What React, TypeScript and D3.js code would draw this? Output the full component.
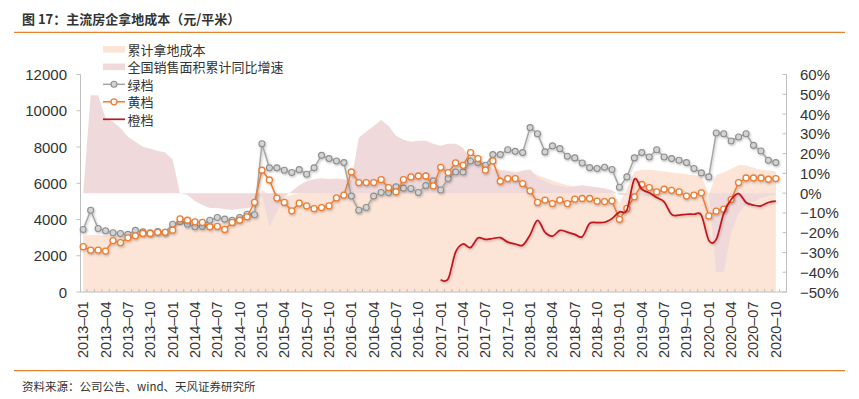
import React from "react";
import * as d3 from "d3";

const W = 859;
const H = 399;

// categories: 2013-01 .. 2020-11 (last slot empty)
const startYear = 2013;
const nSlots = 95;
const months: string[] = [];
for (let k = 0; k < nSlots; k++) {
  const y = startYear + Math.floor(k / 12);
  const m = (k % 12) + 1;
  months.push(`${y}-${m < 10 ? "0" + m : m}`);
}

const tickLabels = [
  "2013-01", "2013-04", "2013-07", "2013-10",
  "2014-01", "2014-04", "2014-07", "2014-10",
  "2015-01", "2015-04", "2015-07", "2015-10",
  "2016-01", "2016-04", "2016-07", "2016-10",
  "2017-01", "2017-04", "2017-07", "2017-10",
  "2018-01", "2018-04", "2018-07", "2018-10",
  "2019-01", "2019-04", "2019-07", "2019-10",
  "2020-01", "2020-04", "2020-07", "2020-10",
];

const leftTicks = [0, 2000, 4000, 6000, 8000, 10000, 12000];
const rightTicks = [-50, -40, -30, -20, -10, 0, 10, 20, 30, 40, 50, 60];

const legendLabels = ["累计拿地成本", "全国销售面积累计同比增速", "绿档", "黄档", "橙档"];

// 累计拿地成本 (area, left axis)
const landCost = [
  3100, 3150, 3150, 3100, 3100, 3150, 3200, 3250, 3250, 3300, 3300, 3350,
  3450, 3550, 3600, 3650, 3700, 3750, 3800, 3850, 3950, 4050, 4200, 4600,
  5650, 5350, 5200, 5250, 5350, 5450, 5550, 5650, 5700, 5750, 5800, 5850,
  5900, 5950, 6000, 6050, 6100, 6150, 6200, 6250, 6300, 6350, 6400, 6450,
  6550, 6650, 6750, 6850, 6950, 7000, 6950, 6850, 6750, 6700, 6650, 6650,
  6600, 6450, 6300, 6150, 6000, 5900, 5800, 5750, 5700, 5650, 5600, 5550,
  4900, 5700, 6650, 6750, 6750, 6700, 6650, 6600, 6550, 6500, 6450, 6400,
  5400, 6450, 6600, 6800, 7000, 7000, 6850, 6750, 6700, 6650,
];

// 全国销售面积累计同比增速 (area, right axis, %)
const salesGrowth = [
  0, 49.5, 49.5, 38, 36, 33, 28.5, 26, 23.5, 22.5, 21.5, 20.5,
  17, 0, -1, -4, -6, -7.5, -7.5, -8, -8.5, -8, -7.5, -7,
  -1, -17, -9.5, -2, 1, 4, 6, 7, 7.5, 7.2, 7.4, 7,
  6.5, 28, 31, 34, 37, 34, 29, 27, 26, 26.5, 26.5, 25,
  24, 25, 25, 23, 17, 14.5, 13, 12, 11.5, 11, 10, 11.5,
  12, 8, 6, 4.5, 3.6, 3, 3.5, 4, 3.5, 3, 2.5, 1.5,
  -1, -1, -0.5, -1.6, -1.8, -1.3, -0.6, -0.1, 0.1, 0.2, -0.1, 0,
  0, -40, -40, -20, -10, -6, -4.5, -2.5, -1.5, -0.8,
];

// 绿档
const green = [
  3450, 4510, 3500, 3380, 3270, 3230, 3180, 3400, 3320, 3270, 3340, 3290,
  3740, 3870, 3740, 3600, 3620, 3960, 4110, 4020, 3960, 4110, 4290, 4260,
  8180, 6850, 6850, 6720, 6590, 6750, 6500, 6850, 7540, 7360, 7230, 7140,
  5290, 4510, 4660, 5290, 5490, 5490, 5800, 5730, 5710, 5490, 5870, 6130,
  5630, 6260, 6620, 6620, 7230, 7140, 6990, 7580, 7580, 7850, 7760, 7690,
  9070, 8730, 7730, 8060, 7910, 7490, 7400, 7120, 6860, 6810, 6880, 6760,
  5780, 6350, 7400, 7690, 7450, 7850, 7450, 7360, 7270, 7140, 6810, 6570,
  6350, 8770, 8730, 8330, 8550, 8730, 8090, 7780, 7270, 7140,
];

// 黄档
const yellow = [
  2500, 2310, 2310, 2260, 2830, 2720, 2990, 3100, 3230, 3230, 3290, 3290,
  3410, 4040, 3960, 3870, 3840, 3600, 3620, 3450, 3840, 3960, 4150, 4950,
  6716, 6180, 5180, 4940, 4480, 4900, 4750, 4600, 4660, 4750, 5190, 5340,
  6620, 6040, 6040, 6040, 6200, 5760, 5520, 6200, 6350, 6400, 6400, 5850,
  6880, 6590, 7120, 6990, 7690, 7360, 6720, 7230, 6110, 6260, 6260, 5980,
  5580, 4940, 5070, 4880, 5070, 4880, 5120, 5160, 5160, 5010, 4990, 5030,
  4010, 4610, 5250, 5930, 5760, 5520, 5670, 5610, 5520, 5290, 5340, 5470,
  4200, 4460, 4570, 5100, 6040, 6290, 6290, 6290, 6220, 6260,
];

// 橙档 (starts 2017-01)
const orangeStart = 48;
const orange = [
  680, 720, 2200, 2650, 2450, 2980, 2900, 2950, 3000, 2750, 2650, 2580,
  3150, 3950, 3300, 3080, 3400, 3300, 3180, 3050, 3780, 3830, 3850, 4050,
  4420, 4520, 6220, 5670, 5470, 5210, 4970, 4280, 4240, 4290, 4290, 4240,
  2850, 2900, 4330, 5100, 5430, 4940, 4790, 4750, 4940, 5010,
];

const C_PEACH = "#FCE4D6";
const C_PINK = "#F0D9DA";
const C_GRAY_LINE = "#A5A5A5";
const C_GRAY_FILL = "#D3D3D3";
const C_GRAY_STROKE = "#8F8F8F";
const C_ORANGE = "#ED7D31";
const C_RED = "#C0141E";
const C_AXIS = "#BFBFBF";
const C_TEXT = "#333333";
const C_RULE = "#E8812B";

const NUM_FONT = "'Liberation Sans', Arial, sans-serif";
const CJK_FONT = "'Noto Sans CJK SC', 'Noto Sans', sans-serif";

export default function App() {
  const plotLeft = 79.5;
  const plotRight = 787;
  const yTop = 74.5;
  const yBottom = 292;
  const axisLeftX = 80.5;
  const axisRightX = 786.5;

  const x = d3.scaleBand<string>().domain(months).range([plotLeft, plotRight]).padding(0);
  const cx = (i: number) => (x(months[i]) as number) + x.bandwidth() / 2;
  const yL = d3.scaleLinear().domain([0, 12000]).range([yBottom, yTop]);
  const yR = d3.scaleLinear().domain([-50, 60]).range([yBottom, yTop]);

  const peachArea = d3
    .area<number>()
    .x((_, i) => cx(i))
    .y0(yL(0))
    .y1((d) => yL(d))(landCost) as string;

  const pinkArea = d3
    .area<number>()
    .x((_, i) => cx(i))
    .y0(yR(0))
    .y1((d) => yR(d))(salesGrowth) as string;

  const lineL = d3
    .line<number>()
    .x((_, i) => cx(i))
    .y((d) => yL(d));
  const grayPath = lineL(green) as string;
  const yellowPath = lineL(yellow) as string;
  const redPath = d3
    .line<number>()
    .x((_, i) => cx(i + orangeStart))
    .y((d) => yL(d))
    .curve(d3.curveCardinal.tension(0))(orange) as string;

  const fmtPct = (v: number) => (v < 0 ? "\u2212" + Math.abs(v) : String(v)) + "%";

  const legendX = 103;
  const legendTextX = 127.5;
  const legendY = [49.3, 66.8, 84.3, 101.8, 119.3];

  return (
    <svg
      width={W}
      height={H}
      viewBox={`0 0 ${W} ${H}`}
      style={{ position: "absolute", left: 0, top: 0, background: "#fff" }}
    >
      <defs>
        <filter id="shadow" x="-5%" y="-5%" width="110%" height="120%">
          <feDropShadow dx="0.8" dy="1.2" stdDeviation="0.9" floodColor="#000" floodOpacity="0.25" />
        </filter>
      </defs>
      <rect x={0} y={0} width={W} height={H} fill="#fff" />

      {/* title */}
      <text
        x={22}
        y={18.5}
        fontFamily={CJK_FONT}
        fontSize={13}
        fontWeight="bold"
        fill={C_TEXT}
        dominantBaseline="central"
      >
        图 17：主流房企拿地成本（元/平米）
      </text>
      <line x1={14} x2={845} y1={32.3} y2={32.3} stroke={C_RULE} strokeWidth={1.3} />

      {/* areas */}
      <path d={peachArea} fill={C_PEACH} />
      <path d={pinkArea} fill={C_PINK} />

      {/* axes */}
      <line x1={axisLeftX} x2={axisLeftX} y1={yTop} y2={yBottom} stroke={C_AXIS} strokeWidth={1} />
      <line x1={axisRightX} x2={axisRightX} y1={yTop} y2={yBottom} stroke={C_AXIS} strokeWidth={1} />
      <line x1={axisLeftX} x2={axisRightX} y1={yBottom} y2={yBottom} stroke={C_AXIS} strokeWidth={1} />
      {leftTicks.map((t) => (
        <g key={"l" + t}>
          <line x1={axisLeftX - 4} x2={axisLeftX} y1={yL(t)} y2={yL(t)} stroke={C_AXIS} />
          <text
            x={67}
            y={yL(t)}
            textAnchor="end"
            dominantBaseline="central"
            fontFamily={NUM_FONT}
            fontSize={15}
            fill={C_TEXT}
          >
            {t}
          </text>
        </g>
      ))}
      {rightTicks.map((t) => (
        <g key={"r" + t}>
          <line x1={axisRightX - 4} x2={axisRightX} y1={yR(t)} y2={yR(t)} stroke={C_AXIS} />
          <text
            x={800}
            y={yR(t)}
            textAnchor="start"
            dominantBaseline="central"
            fontFamily={NUM_FONT}
            fontSize={15}
            fill={C_TEXT}
          >
            {fmtPct(t)}
          </text>
        </g>
      ))}
      {months.map((m, i) =>
        i === 0 ? null : (
          <line
            key={"xt" + m}
            x1={x(m) as number}
            x2={x(m) as number}
            y1={yBottom - 3}
            y2={yBottom}
            stroke={C_AXIS}
          />
        )
      )}
      {tickLabels.map((lab) => {
        const i = months.indexOf(lab);
        const px = cx(i);
        return (
          <text
            key={"xl" + lab}
            transform={`translate(${px},${301.5}) rotate(-90)`}
            textAnchor="end"
            dominantBaseline="central"
            fontFamily={NUM_FONT}
            fontSize={14.5}
            fill={C_TEXT}
          >
            {lab.replace("-", "\u2013")}
          </text>
        );
      })}

      {/* lines */}
      <g filter="url(#shadow)">
        <path d={grayPath} fill="none" stroke={C_GRAY_LINE} strokeWidth={1.5} />
        {green.map((v, i) => (
          <circle key={"g" + i} cx={cx(i)} cy={yL(v)} r={3} fill={C_GRAY_FILL} stroke={C_GRAY_STROKE} strokeWidth={1.1} />
        ))}
      </g>
      <g filter="url(#shadow)">
        <path d={yellowPath} fill="none" stroke={C_ORANGE} strokeWidth={1.5} />
        {yellow.map((v, i) => (
          <circle key={"y" + i} cx={cx(i)} cy={yL(v)} r={3} fill="#fff" stroke={C_ORANGE} strokeWidth={1.3} />
        ))}
      </g>
      <g filter="url(#shadow)">
        <path d={redPath} fill="none" stroke={C_RED} strokeWidth={1.7} />
      </g>

      {/* legend */}
      <rect x={legendX} y={legendY[0] - 3.3} width={22} height={6.6} fill={C_PEACH} />
      <rect x={legendX} y={legendY[1] - 3.3} width={22} height={6.6} fill={C_PINK} />
      <line x1={legendX} x2={legendX + 22} y1={legendY[2]} y2={legendY[2]} stroke={C_GRAY_LINE} strokeWidth={1.5} />
      <circle cx={legendX + 11} cy={legendY[2]} r={3} fill={C_GRAY_FILL} stroke={C_GRAY_STROKE} strokeWidth={1.1} />
      <line x1={legendX} x2={legendX + 22} y1={legendY[3]} y2={legendY[3]} stroke={C_ORANGE} strokeWidth={1.5} />
      <circle cx={legendX + 11} cy={legendY[3]} r={3} fill="#fff" stroke={C_ORANGE} strokeWidth={1.3} />
      <line x1={legendX} x2={legendX + 22} y1={legendY[4]} y2={legendY[4]} stroke={C_RED} strokeWidth={1.7} />
      {legendLabels.map((t, k) => (
        <text
          key={"lg" + k}
          x={legendTextX}
          y={legendY[k]}
          dominantBaseline="central"
          fontFamily={CJK_FONT}
          fontSize={13}
          fill={C_TEXT}
        >
          {t}
        </text>
      ))}

      {/* footer */}
      <line x1={14} x2={845} y1={370.7} y2={370.7} stroke={C_RULE} strokeWidth={1.3} />
      <text
        x={22}
        y={385.7}
        dominantBaseline="central"
        fontFamily={CJK_FONT}
        fontSize={11.5}
        fill={C_TEXT}
      >
        资料来源：公司公告、wind、天风证券研究所
      </text>
    </svg>
  );
}
